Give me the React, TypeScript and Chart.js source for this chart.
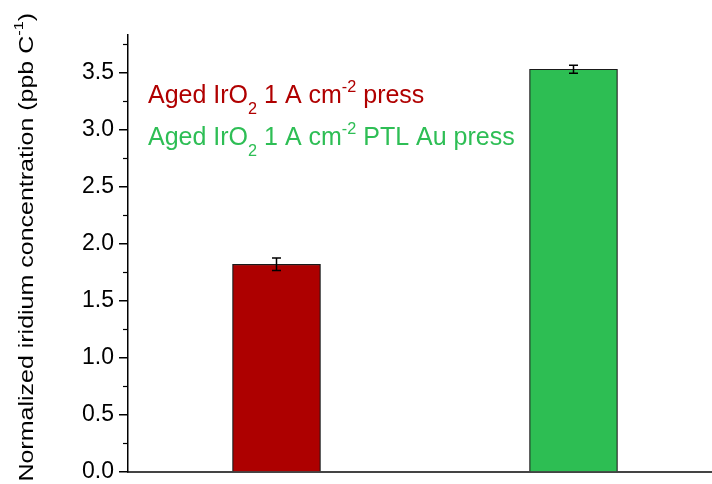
import React, { useEffect, useRef } from "react";
import { Chart, registerables } from "chart.js";

Chart.register(...registerables);

const categories = ["Aged IrO2 1 A cm-2 press", "Aged IrO2 1 A cm-2 PTL Au press"];
const values = [1.82, 3.53];
const errors = [0.055, 0.035];
const barColors = ["#AD0000", "#2DBE53"];
const textColors = ["#B00000", "#2EBE55"];
const majorTicks = [0, 0.5, 1.0, 1.5, 2.0, 2.5, 3.0, 3.5];
const minorTicks = [0.25, 0.75, 1.25, 1.75, 2.25, 2.75, 3.25, 3.75];
const yMax = 3.83;

type Seg = { t: string; k?: "sub" | "sup" };
const legendLines: Seg[][] = [
  [{ t: "Aged IrO" }, { t: "2", k: "sub" }, { t: " 1 A cm" }, { t: "-2", k: "sup" }, { t: " press" }],
  [{ t: "Aged IrO" }, { t: "2", k: "sub" }, { t: " 1 A cm" }, { t: "-2", k: "sup" }, { t: " PTL Au press" }],
];
const yTitle: Seg[] = [{ t: "Normalized iridium concentration (ppb C" }, { t: "-1", k: "sup" }, { t: ")" }];

const FONT = '"Liberation Sans", Arial, sans-serif';

function segWidth(ctx: CanvasRenderingContext2D, segs: Seg[], size: number) {
  let w = 0;
  for (const s of segs) {
    const fs = s.k ? size * 0.65 : size;
    ctx.font = `${fs}px ${FONT}`;
    w += ctx.measureText(s.t).width;
  }
  return w;
}

function drawRich(ctx: CanvasRenderingContext2D, segs: Seg[], x: number, y: number, size: number) {
  let cx = x;
  for (const s of segs) {
    const fs = s.k ? size * 0.65 : size;
    const dy = s.k === "sub" ? size * 0.43 : s.k === "sup" ? -size * 0.46 : 0;
    ctx.font = `${fs}px ${FONT}`;
    ctx.fillText(s.t, cx, y + dy);
    cx += ctx.measureText(s.t).width;
  }
}

const overlay = {
  id: "overlay",
  afterDatasetsDraw(chart: any) {
    const ctx: CanvasRenderingContext2D = chart.ctx;
    const xs = chart.scales.x;
    const ys = chart.scales.y;
    const area = chart.chartArea;
    ctx.save();
    // minor ticks
    ctx.strokeStyle = "#000";
    ctx.lineWidth = 1.2;
    for (const v of minorTicks) {
      const py = Math.round(ys.getPixelForValue(v)) + 0.5;
      ctx.beginPath();
      ctx.moveTo(area.left - 5, py);
      ctx.lineTo(area.left, py);
      ctx.stroke();
    }
    // error bars
    ctx.lineWidth = 1.5;
    ctx.strokeStyle = "#000";
    values.forEach((v, i) => {
      const px = xs.getPixelForValue(i);
      const top = ys.getPixelForValue(v + errors[i]);
      const bot = ys.getPixelForValue(v - errors[i]);
      ctx.beginPath();
      ctx.moveTo(px, top);
      ctx.lineTo(px, bot);
      ctx.moveTo(px - 4.5, top);
      ctx.lineTo(px + 4.5, top);
      ctx.moveTo(px - 4.5, bot);
      ctx.lineTo(px + 4.5, bot);
      ctx.stroke();
    });
    // legend text
    ctx.textBaseline = "alphabetic";
    ctx.textAlign = "left";
    legendLines.forEach((segs, i) => {
      ctx.fillStyle = textColors[i];
      drawRich(ctx, segs, 148, 103 + i * 42, 25);
    });
    // y title (horizontally stretched like the original)
    ctx.fillStyle = "#000";
    const stretch = 1.19;
    const w = segWidth(ctx, yTitle, 21) * stretch;
    ctx.translate(33, 13 + w);
    ctx.rotate(-Math.PI / 2);
    ctx.scale(stretch, 1);
    drawRich(ctx, yTitle, 0, 0, 21);
    ctx.restore();
  },
};

export default function App() {
  const ref = useRef<HTMLCanvasElement | null>(null);
  useEffect(() => {
    if (!ref.current) return;
    const chart = new Chart(ref.current, {
      type: "bar",
      data: {
        labels: categories,
        datasets: [
          {
            data: values,
            backgroundColor: barColors,
            borderColor: "#1a1a1a",
            borderWidth: 1.2,
            barThickness: 88,
          },
        ],
      },
      options: {
        animation: false,
        responsive: false,
        devicePixelRatio: 1,
        layout: { padding: { left: 0, right: 18, top: 35, bottom: 12 } },
        plugins: { legend: { display: false }, tooltip: { enabled: false }, title: { display: false } },
        scales: {
          x: {
            type: "category",
            ticks: { display: false },
            grid: { display: false },
            border: { display: true, color: "#444", width: 2 },
            afterFit: (s: any) => {
              s.height = 0;
              s.paddingLeft = 0;
              s.paddingRight = 0;
            },
          },
          y: {
            type: "linear",
            min: 0,
            max: yMax,
            afterBuildTicks: (s: any) => {
              s.ticks = majorTicks.map((v) => ({ value: v }));
            },
            ticks: {
              color: "#000",
              padding: 5,
              font: { family: FONT, size: 23 },
              callback: (v: any) => Number(v).toFixed(1),
            },
            grid: { display: true, drawOnChartArea: false, drawTicks: true, tickLength: 9, color: "#000", lineWidth: 1.5 },
            border: { display: true, color: "#000", width: 1.5 },
            afterFit: (s: any) => {
              s.width = 128;
              s.paddingTop = 0;
              s.paddingBottom = 0;
            },
          },
        },
      },
      plugins: [overlay],
    });
    return () => chart.destroy();
  }, []);
  return (
    <div style={{ position: "fixed", left: 0, top: 0, width: 712, height: 484, overflow: "hidden", background: "#fff" }}>
      <canvas ref={ref} width={740} height={484} style={{ width: 740, height: 484, display: "block" }} />
    </div>
  );
}
